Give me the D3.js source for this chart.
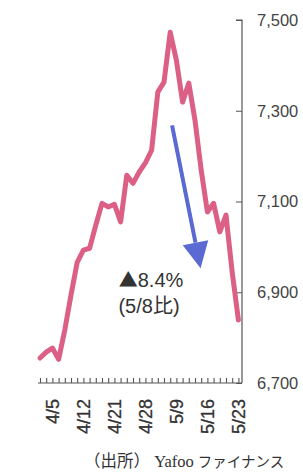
<!DOCTYPE html>
<html><head><meta charset="utf-8">
<script src="https://cdn.jsdelivr.net/npm/d3@7"></script>
<style>html,body{margin:0;padding:0;background:#fff;}svg{display:block;}</style>
</head><body>
<svg id="c" width="303" height="474"></svg>
<script>
// Daily closing values (33 trading days)
const values = [6755, 6768, 6777, 6752, 6817, 6894, 6966, 6993, 6997, 7048, 7096, 7088, 7094, 7055,
  7158, 7140, 7165, 7185, 7213, 7341, 7363, 7473, 7411, 7319, 7361, 7279, 7169, 7077, 7096, 7033,
  7070, 6944, 6839];
const xLabels = ["4/5", "4/12", "4/21", "4/28", "5/9", "5/16", "5/23"];
const xLabelIndex = [2, 7, 12, 17, 22, 27, 32];
const yTicks = [6700, 6900, 7100, 7300, 7500];
const changeLabel = ["▲", "8.4%"];
const baseLabel = "(5/8比)";
const sourceLabel = ["（出所） Yafoo ", "ファイナンス"];
// arrow annotation in data coords: [index, value]
const arrowFrom = [21.3, 7268];
const arrowTo = [25.9, 6953];

const svg = d3.select("#c");
const x = d3.scaleLinear().domain([0, values.length - 1]).range([40, 238.4]);
const y = d3.scaleLinear().domain([6700, 7500]).range([383, 20]);
const axisColor = "#555";

// y axis (right, ticks pointing left)
const yAxis = svg.append("g").attr("transform", "translate(242,0)")
  .call(d3.axisLeft(y).tickValues(yTicks).tickSize(6).tickFormat(""));
yAxis.select(".domain").attr("stroke", axisColor).attr("stroke-width", 1.2).attr("d", `M-6,${y(7500)}H0V${y(6700)}`);
yAxis.selectAll(".tick line").attr("stroke", axisColor).attr("stroke-width", 1);
svg.append("g").selectAll("text").data(yTicks).join("text")
  .attr("x", 257).attr("y", d => y(d)).attr("dy", "0.36em")
  .attr("font-family", "Liberation Sans, Arial, sans-serif").attr("font-size", 16.5)
  .attr("fill", "#444").text(d => d3.format(",")(d));

// x axis (ticks pointing up)
const xAxis = svg.append("g").attr("transform", `translate(0,${y(6700)})`)
  .call(d3.axisTop(x).tickValues(d3.range(values.length)).tickSize(5).tickFormat(""));
xAxis.select(".domain").attr("stroke", axisColor).attr("stroke-width", 1.2).attr("d", `M38,0H242`);
xAxis.selectAll(".tick line").attr("stroke", axisColor).attr("stroke-width", 1.1);
svg.append("g").selectAll("text").data(xLabels).join("text")
  .attr("transform", (d, i) => `translate(${x(xLabelIndex[i])},399) rotate(-90)`)
  .attr("text-anchor", "end").attr("dy", "0.36em")
  .attr("font-family", "Liberation Sans, Arial, sans-serif").attr("font-size", 18)
  .attr("fill", "#333").attr("stroke", "#333").attr("stroke-width", 0.3).text(d => d);

// line
const line = d3.line().x((d, i) => x(i)).y(d => y(d));
svg.append("path").datum(values).attr("d", line)
  .attr("fill", "none").attr("stroke", "#dc5f86").attr("stroke-width", 5)
  .attr("stroke-linejoin", "round").attr("stroke-linecap", "round");

// arrow
const ax0 = x(arrowFrom[0]), ay0 = y(arrowFrom[1]), ax1 = x(arrowTo[0]), ay1 = y(arrowTo[1]);
const ang = Math.atan2(ay1 - ay0, ax1 - ax0);
const headLen = 26, headW = 13;
const bx = ax1 - headLen * Math.cos(ang), by = ay1 - headLen * Math.sin(ang);
svg.append("line").attr("x1", ax0).attr("y1", ay0).attr("x2", bx).attr("y2", by)
  .attr("stroke", "#5a6ad2").attr("stroke-width", 4);
svg.append("path").attr("fill", "#5a6ad2")
  .attr("d", `M${ax1},${ay1}L${bx + headW * Math.sin(ang)},${by - headW * Math.cos(ang)}L${bx - headW * Math.sin(ang)},${by + headW * Math.cos(ang)}Z`);

// annotation text
const t1 = svg.append("text").attr("x", 151).attr("y", 287).attr("text-anchor", "middle")
  .attr("font-family", "Liberation Sans, Noto Sans CJK JP, sans-serif").attr("font-size", 20)
  .attr("fill", "#333");
t1.append("tspan").attr("font-family", "Noto Sans CJK JP").attr("font-size", 19).text(changeLabel[0]);
t1.append("tspan").text(changeLabel[1]);
svg.append("text").attr("x", 149).attr("y", 313).attr("text-anchor", "middle")
  .attr("font-family", "Liberation Sans, Noto Sans CJK JP, sans-serif").attr("font-size", 20)
  .attr("fill", "#333").text(baseLabel);

// source
const src = svg.append("text").attr("x", 84).attr("y", 467)
  .attr("font-family", "Liberation Serif, Noto Sans CJK JP, serif").attr("font-size", 16.5).attr("fill", "#333");
src.append("tspan").text(sourceLabel[0]);
src.append("tspan").attr("font-family", "Noto Sans CJK JP").attr("font-size", 14.5).text(sourceLabel[1]);
</script>
</body></html>
